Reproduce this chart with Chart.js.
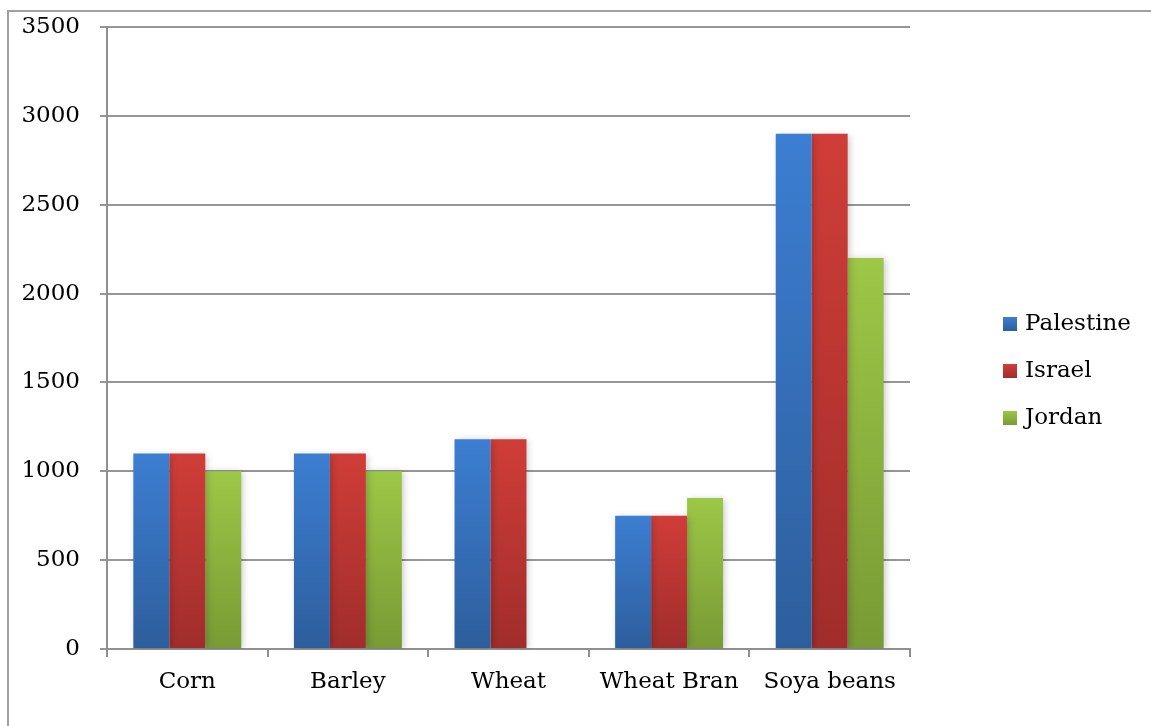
<!DOCTYPE html>
<html>
<head>
<meta charset="utf-8">
<script src="https://cdn.jsdelivr.net/npm/chart.js@4/dist/chart.umd.min.js"></script>
<style>
  html, body { margin: 0; padding: 0; background: #fff; overflow: hidden; }
  #wrap { position: absolute; left: 0; top: 0; width: 1151px; height: 726px; }
</style>
</head>
<body>
<div id="wrap"><canvas id="chart" width="1151" height="726"></canvas></div>
<script>
const categories = ['Corn', 'Barley', 'Wheat', 'Wheat Bran', 'Soya beans'];
const palestine = [1100, 1100, 1180, 750, 2900];
const israel = [1100, 1100, 1180, 750, 2900];
const jordan = [1000, 1000, 0, 850, 2200];
const seriesNames = ['Palestine', 'Israel', 'Jordan'];
const yTicks = [0, 500, 1000, 1500, 2000, 2500, 3000, 3500];

const FONT = "'DejaVu Serif', serif";
const SIZE = 23;
const shades = [
  ['#3c7ed2', '#2d5e9c'],
  ['#d03d38', '#a02d2b'],
  ['#9dc747', '#789a34'],
];

function barFill(idx) {
  return (ctx) => {
    const chart = ctx.chart, y = chart.scales && chart.scales.y;
    if (!y || ctx.type !== 'data') return shades[idx][0];
    const top = y.getPixelForValue(ctx.raw), base = y.getPixelForValue(0);
    if (!isFinite(top) || top === base) return shades[idx][0];
    const g = chart.ctx.createLinearGradient(0, top, 0, base);
    g.addColorStop(0, shades[idx][0]);
    g.addColorStop(1, shades[idx][1]);
    return g;
  };
}

// page frame: only the left and top edges show in the picture
const frame = {
  id: 'frame',
  beforeDraw(chart) {
    const c = chart.ctx;
    c.save();
    c.strokeStyle = '#a0a0a0';
    c.lineWidth = 2;
    c.beginPath();
    c.moveTo(8, 726);
    c.lineTo(8, 11);
    c.lineTo(1151, 11);
    c.stroke();
    c.restore();
  },
};

const shadow = {
  id: 'shadow',
  beforeDatasetsDraw(chart) {
    const c = chart.ctx;
    c.save();
    c.shadowColor = 'rgba(0,0,0,0.22)';
    c.shadowBlur = 7;
    c.shadowOffsetX = 2;
    c.shadowOffsetY = 1;
  },
  afterDatasetsDraw(chart) { chart.ctx.restore(); },
};

const sideLegend = {
  id: 'sideLegend',
  afterDraw(chart) {
    const c = chart.ctx;
    c.save();
    c.font = SIZE + 'px ' + FONT;
    c.textBaseline = 'middle';
    seriesNames.forEach((name, i) => {
      const cy = 324 + i * 47;
      const g = c.createLinearGradient(0, cy - 7, 0, cy + 7);
      g.addColorStop(0, shades[i][0]);
      g.addColorStop(1, shades[i][1]);
      c.fillStyle = g;
      c.fillRect(1003, cy - 7, 14, 14);
      c.fillStyle = '#000';
      c.fillText(name, 1025, cy);
    });
    c.restore();
  },
};

new Chart(document.getElementById('chart'), {
  type: 'bar',
  data: {
    labels: categories,
    datasets: [
      { label: seriesNames[0], data: palestine, backgroundColor: barFill(0) },
      { label: seriesNames[1], data: israel, backgroundColor: barFill(1) },
      { label: seriesNames[2], data: jordan, backgroundColor: barFill(2) },
    ],
  },
  options: {
    responsive: false,
    animation: false,
    devicePixelRatio: 1,
    layout: { padding: { top: 27, right: 241, left: 0, bottom: 0 } },
    datasets: { bar: { barPercentage: 1, categoryPercentage: 0.672, borderWidth: 0 } },
    plugins: { legend: { display: false }, tooltip: { enabled: false } },
    scales: {
      x: {
        grid: { offset: true, drawOnChartArea: false, color: '#909090', lineWidth: 2, tickLength: 8 },
        border: { color: '#909090', width: 2 },
        ticks: { color: '#000', font: { family: FONT, size: SIZE }, padding: 11, maxRotation: 0 },
        afterFit(s) { s.height = 77; s.paddingLeft = 0; s.paddingRight = 0; },
      },
      y: {
        min: 0, max: 3500,
        afterBuildTicks(s) { s.ticks = yTicks.map((v) => ({ value: v })); },
        grid: { color: '#969696', lineWidth: 2, tickLength: 7 },
        border: { color: '#909090', width: 2 },
        ticks: { color: '#000', font: { family: FONT, size: SIZE }, padding: 20, callback: (v) => String(v) },
        afterFit(s) { s.width = 107; s.paddingTop = 0; s.paddingBottom = 0; },
      },
    },
  },
  plugins: [frame, shadow, sideLegend],
});
</script>
</body>
</html>
